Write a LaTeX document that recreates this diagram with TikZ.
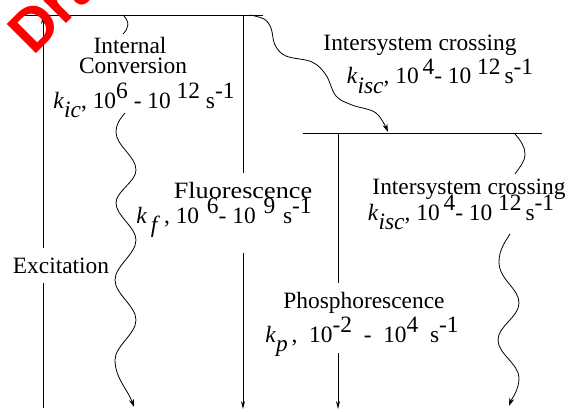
\documentclass[tikz,border=0pt]{standalone}
\usepackage{fontspec}
\setmainfont{Liberation Serif}
\newfontfamily\wmfont{Liberation Sans}
\usetikzlibrary{arrows.meta}
\newcommand\upx[1]{\raisebox{0.42em}{#1}}
\newcommand\dnx[1]{\raisebox{-0.42em}{\textit{#1}}}
\begin{document}
\begin{tikzpicture}[x=1pt,y=-1pt,
  lvl/.style={line width=0.9pt},
  rad/.style={line width=0.8pt,-{Stealth[length=8pt,width=4pt]}},
  wav/.style={line width=0.8pt},
  wavarr/.style={line width=0.8pt,-{Stealth[length=8pt,width=5pt]}},
  lab/.style={font=\fontsize{23.4}{23.4}\selectfont, inner sep=0pt, anchor=base}]
\useasboundingbox (0,0) rectangle (570,412);
\fill[white] (0,0) rectangle (570,412);
% levels
\coordinate (s1l) at (23,15); \coordinate (s1r) at (263,15);
\coordinate (t1l) at (303,133); \coordinate (t1r) at (542,133);
\draw[lvl] (s1l) -- (s1r);
\draw[lvl] (t1l) -- (t1r);
% labels
\node[lab] (exc) at (61,273) {Excitation};
\node[lab] (ic1) at (130,54) {Internal};
\node[lab] (ic2) at (133,74) {Conversion};
\node[lab] (ic3) at (144,108) {\textit{k}\dnx{ic}, 10\upx{6} - 10 \upx{12} s\upx{-1}};
\node[lab] (fl1) at (243,198) {\scalebox{1.12}[1]{Fluorescence}};
\node[lab] (fl2) at (224,223) {\textit{k}\,\dnx{f}\,,\ 10\,\,\upx{6}- 10\,\,\upx{9}\,\,s\upx{-1}};
\node[lab] (isa1) at (420,51) {Intersystem crossing};
\node[lab] (isa2) at (440,84) {\textit{k}\dnx{isc}, 10\,\upx{4}- 10 \upx{12}\,s\upx{-1}};
\node[lab] (isb1) at (469,194) {Intersystem crossing};
\node[lab] (isb2) at (461,220) {\textit{k}\dnx{isc}, 10\,\upx{4}- 10 \upx{12}\,s\upx{-1}};
\node[lab] (ph1) at (364,308) {Phosphorescence};
\node[lab] (ph2) at (362,342) {\textit{k}\dnx{p}\,,\ \ 10\upx{-2} \ -\ \ 10\upx{4}\ \ s\upx{-1}};
% excitation
\coordinate (e0) at (43,408); \coordinate (e1) at (43,283);
\coordinate (e2) at (43,248); \coordinate (e3) at (43,16);
\draw[lvl] (e0) -- (e1);
\draw[rad] (e2) -- (e3);
% fluorescence
\coordinate (f0) at (243,15); \coordinate (f1) at (243,173);
\coordinate (f2) at (243,253); \coordinate (f3) at (243,409);
\draw[lvl] (f0) -- (f1);
\draw[rad] (f2) -- (f3);
% phosphorescence
\coordinate (p0) at (338,133); \coordinate (p1) at (338,283);
\coordinate (p2) at (338,353); \coordinate (p3) at (338,409);
\draw[lvl] (p0) -- (p1);
\draw[rad] (p2) -- (p3);
% internal conversion
\coordinate (ica) at (123,15); \coordinate (icb) at (123,34);
\draw[wav] (ica) .. controls (130,22) and (129,28) .. (icb);
\coordinate (icc) at (125,113); \coordinate (icd) at (134,407);
\draw[wavarr] (icc) .. controls (119,120) and (116,125) .. (116,132)
  .. controls (116,146) and (136,156) .. (136,170)
  .. controls (136,182) and (116,191) .. (116,203)
  .. controls (116,216) and (136,227) .. (136,240)
  .. controls (136,254) and (115,266) .. (115,280)
  .. controls (115,294) and (136,306) .. (136,320)
  .. controls (136,334) and (115,346) .. (115,360)
  .. controls (115,378) and (128,390) .. (icd);
% intersystem crossing S1 -> T1
\draw[wavarr] plot[smooth,tension=0.6] coordinates {(250,15) (264,19) (271,28) (275,45) (286,56) (312,62) (326,75) (336,96) (352,105) (376,113) (388,132)};
% intersystem crossing T1 -> S0
\coordinate (iba) at (515,134); \coordinate (ibb) at (515,174);
\draw[wav] (iba) .. controls (521,141) and (525,147) .. (525,154)
  .. controls (525,162) and (519,168) .. (ibb);
\coordinate (ibc) at (510,234); \coordinate (ibd) at (509,406);
\draw[wavarr] (ibc) .. controls (505,242) and (499,250) .. (499,262)
  .. controls (499,280) and (519,288) .. (519,303)
  .. controls (519,317) and (498,326) .. (498,340)
  .. controls (498,354) and (519,364) .. (519,378)
  .. controls (519,390) and (512,398) .. (ibd);
% watermark
\node[font=\wmfont\bfseries\fontsize{60}{60}\selectfont, text=red, anchor=base west, inner sep=0pt, rotate=45] (wm) at (33,57) {Draft};
\end{tikzpicture}
\end{document}
